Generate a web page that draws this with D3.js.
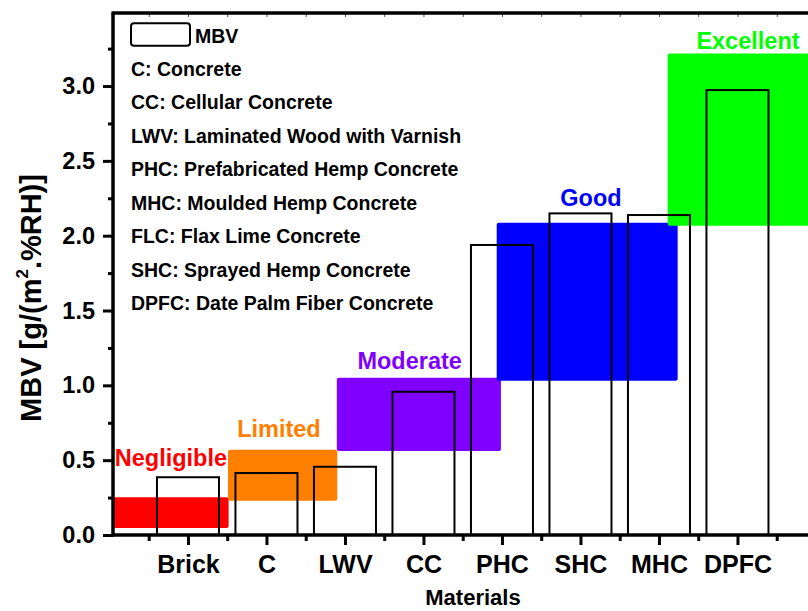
<!DOCTYPE html>
<html><head><meta charset="utf-8">
<script src="https://cdn.jsdelivr.net/npm/d3@7"></script>
<style>
body{margin:0;background:#fff}
svg{display:block}
text{font-family:"Liberation Sans",Arial,sans-serif;font-weight:bold}
</style>
</head><body>
<svg id="chart" width="808" height="611"></svg>
<script>
// ---- data ----
const categories = ["Brick","C","LWV","CC","PHC","SHC","MHC","DPFC"];
const mbv = [0.386,0.414,0.456,0.957,1.938,2.149,2.138,2.973];

const zoneNames  = ["Negligible","Limited","Moderate","Good","Excellent"];
const zoneColors = ["#ff0000","#ff8000","#8000ff","#0000ff","#00ff00"];
const zoneX0     = [0.05,1.51,2.896,4.933,7.111];
const zoneX1     = [1.518,2.902,4.987,7.238,9.5];
const zoneLow    = [0.047,0.229,0.561,1.031,2.067];
const zoneHigh   = [0.252,0.570,1.051,2.087,3.218];
const zoneLabelX = [0.783,2.159,3.824,6.134,8.134];
const zoneLabelY = [0.462,0.657,1.109,2.200,3.247];

const yTicks = [0,0.5,1.0,1.5,2.0,2.5,3.0];
const yMinorTicks = [0.25,0.75,1.25,1.75,2.25,2.75,3.25];
const xMinorTicks = [0.5,1.5,2.5,3.5,4.5,5.5,6.5,7.5,8.5];

const legendSeries = "MBV";
const legendLines = [
  "C: Concrete",
  "CC: Cellular Concrete",
  "LWV: Laminated Wood with Varnish",
  "PHC: Prefabricated Hemp Concrete",
  "MHC: Moulded Hemp Concrete",
  "FLC: Flax Lime Concrete",
  "SHC: Sprayed Hemp Concrete",
  "DPFC: Date Palm Fiber Concrete"
];
const xTitle = "Materials";

// ---- layout ----
const svg = d3.select("#chart");
const padL = 113, padT = 13, padB = 535, step = 78.5;
const xMin = 0.045, xMax = 9.0;
const x = d3.scaleLinear().domain([xMin, xMax]).range([padL, padL + (xMax - xMin) * step]);
const y = d3.scaleLinear().domain([0, 3.488]).range([padB, padT]);
const barHalf = 0.395;
const FONT = '"Liberation Sans",Arial,sans-serif';

// zones
const zones = zoneNames.map((n,i)=>({n, c:zoneColors[i], x0:zoneX0[i], x1:zoneX1[i], lo:zoneLow[i], hi:zoneHigh[i], lx:zoneLabelX[i], ly:zoneLabelY[i]}));
svg.append("g").selectAll("rect").data(zones).join("rect")
  .attr("x", d=>x(d.x0)).attr("width", d=>x(d.x1)-x(d.x0))
  .attr("y", d=>y(d.hi)).attr("height", d=>y(d.lo)-y(d.hi))
  .attr("rx", 2).attr("fill", d=>d.c);

svg.append("g").selectAll("text").data(zones).join("text")
  .attr("x", d=>x(d.lx)).attr("y", d=>y(d.ly))
  .attr("text-anchor","middle").attr("font-size", 23.5)
  .attr("fill", d=>d.c).text(d=>d.n);

// bars
const bars = categories.map((c,i)=>({c, v:mbv[i], pos:i+1}));
svg.append("g").selectAll("rect").data(bars).join("rect")
  .attr("x", d=>x(d.pos-barHalf)).attr("width", d=>x(d.pos+barHalf)-x(d.pos-barHalf))
  .attr("y", d=>y(d.v)).attr("height", d=>y(0)-y(d.v))
  .attr("fill","none").attr("stroke","#000").attr("stroke-width",2);

// axes
const gx = svg.append("g").attr("transform",`translate(0,${padB})`)
  .call(d3.axisBottom(x).tickValues(bars.map(d=>d.pos)).tickFormat((d,i)=>categories[i]).tickSize(10).tickSizeOuter(0));
gx.select(".domain").remove();
gx.selectAll(".tick line").attr("stroke-width",3);
gx.selectAll(".tick text").attr("y",38).attr("dy",0).attr("font-size",25)
  .attr("font-family",FONT).attr("font-weight","bold").attr("fill","#000");

const gxm = svg.append("g").attr("transform",`translate(0,${padB})`)
  .call(d3.axisBottom(x).tickValues(xMinorTicks).tickFormat("").tickSize(6).tickSizeOuter(0));
gxm.select(".domain").remove();
gxm.selectAll(".tick line").attr("stroke-width",3);

const gy = svg.append("g").attr("transform",`translate(${padL},0)`)
  .call(d3.axisLeft(y).tickValues(yTicks).tickFormat(d3.format(".1f")).tickSize(10).tickPadding(8).tickSizeOuter(0));
gy.select(".domain").remove();
gy.selectAll(".tick line").attr("stroke-width",3);
gy.selectAll(".tick text").attr("font-size",23.5)
  .attr("font-family",FONT).attr("font-weight","bold").attr("fill","#000");

const gym = svg.append("g").attr("transform",`translate(${padL},0)`)
  .call(d3.axisLeft(y).tickValues(yMinorTicks).tickFormat("").tickSize(5).tickSizeOuter(0));
gym.select(".domain").remove();
gym.selectAll(".tick line").attr("stroke-width",3);

// top mirror ticks
const gt = svg.append("g").attr("transform",`translate(0,${padT})`)
  .call(d3.axisBottom(x).tickValues(bars.map(d=>d.pos).concat(xMinorTicks)).tickFormat("").tickSize(4).tickSizeOuter(0));
gt.select(".domain").remove();
gt.selectAll(".tick line").attr("stroke","#555").attr("stroke-width",1);

// frame
svg.append("line").attr("x1",padL).attr("x2",808).attr("y1",padB).attr("y2",padB).attr("stroke","#000").attr("stroke-width",3.5);
svg.append("line").attr("x1",padL-1.5).attr("x2",808).attr("y1",padT).attr("y2",padT).attr("stroke","#000").attr("stroke-width",3.5);
svg.append("line").attr("x1",padL).attr("x2",padL).attr("y1",padT).attr("y2",padB+1.5).attr("stroke","#000").attr("stroke-width",3.5);

// axis titles
svg.append("text").attr("x",473).attr("y",605).attr("text-anchor","middle").attr("font-size",22).text(xTitle);
const yt = svg.append("text").attr("transform","translate(41,298) rotate(-90)").attr("text-anchor","middle").attr("font-size",29);
yt.append("tspan").text("MBV [g/(m");
yt.append("tspan").attr("font-size",17).attr("dy",-13).text("2");
yt.append("tspan").attr("dy",13).text(".%RH)]");

// legend
svg.append("rect").attr("x",131).attr("y",23.3).attr("width",59).attr("height",22.4).attr("rx",3)
  .attr("fill","none").attr("stroke","#000").attr("stroke-width",2);
svg.append("text").attr("x",195).attr("y",43.3).attr("font-size",19.5).text(legendSeries);
svg.append("g").selectAll("text").data(legendLines).join("text")
  .attr("x",131).attr("y",(d,i)=>76 + i*33.43).attr("font-size",19.5).text(d=>d);
</script>
</body></html>
